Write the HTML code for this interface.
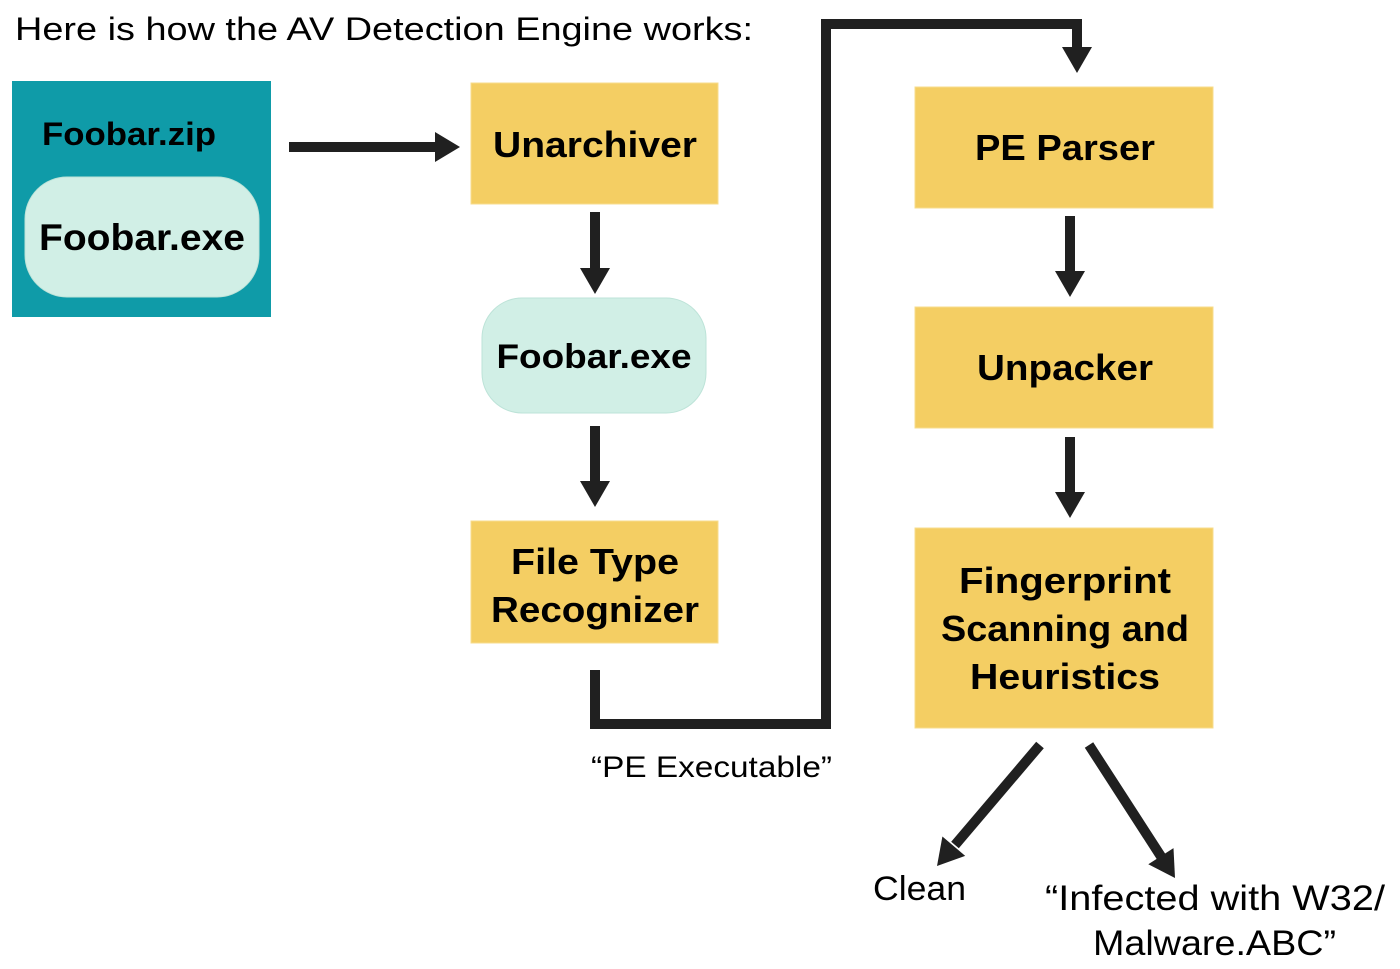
<!DOCTYPE html>
<html><head><meta charset="utf-8"><style>
html,body{margin:0;padding:0;background:#fff;}
svg{display:block;}
text{font-family:"Liberation Sans","DejaVu Sans",sans-serif;fill:#000;}
.b{font-weight:bold;}
</style></head><body>
<svg width="1400" height="969" viewBox="0 0 1400 969" xmlns="http://www.w3.org/2000/svg">
<text x="15" y="40" font-size="32" textLength="738" lengthAdjust="spacingAndGlyphs">Here is how the AV Detection Engine works:</text>

<rect x="12" y="81" width="259" height="236" fill="#0f9ba8"/>
<text class="b" x="42" y="145" font-size="32" textLength="174" lengthAdjust="spacingAndGlyphs">Foobar.zip</text>
<rect x="25" y="177" width="234" height="120" rx="42" fill="#d1efe6" stroke="#bde3d8"/>
<text class="b" x="142" y="250" font-size="37" text-anchor="middle" textLength="206" lengthAdjust="spacingAndGlyphs">Foobar.exe</text>

<g stroke="#202020" stroke-width="10" fill="none">
<line x1="289" y1="147" x2="436" y2="147"/>
<line x1="595" y1="212" x2="595" y2="269"/>
<line x1="595" y1="426" x2="595" y2="482"/>
<polyline points="595,670 595,724 826,724 826,24 1077,24 1077,48"/>
<line x1="1070" y1="216" x2="1070" y2="272"/>
<line x1="1070" y1="437" x2="1070" y2="493"/>
<line x1="1040" y1="745" x2="955" y2="845"/>
<line x1="1089" y1="745" x2="1162" y2="858"/>
</g>
<g fill="#202020">
<polygon points="435,132 460,147 435,162"/>
<polygon points="580,268 610,268 595,294"/>
<polygon points="580,481 610,481 595,507"/>
<polygon points="1062,47 1092,47 1077,73"/>
<polygon points="1055,271 1085,271 1070,297"/>
<polygon points="1055,492 1085,492 1070,518"/>
<polygon points="965.2,855.9 942.4,836.5 937,866"/>
<polygon points="1148.3,864.3 1173.5,848.1 1175,878"/>
</g>

<rect x="471" y="83" width="247" height="121" fill="#f4ce63" stroke="#f7dc8e"/>
<text class="b" x="595" y="157" font-size="36" text-anchor="middle" textLength="204" lengthAdjust="spacingAndGlyphs">Unarchiver</text>

<rect x="482" y="298" width="224" height="115" rx="40" fill="#d1efe6" stroke="#bde3d8"/>
<text class="b" x="594" y="368" font-size="34" text-anchor="middle" textLength="195" lengthAdjust="spacingAndGlyphs">Foobar.exe</text>

<rect x="471" y="521" width="247" height="122" fill="#f4ce63" stroke="#f7dc8e"/>
<text class="b" x="595" y="574" font-size="36" text-anchor="middle" textLength="168" lengthAdjust="spacingAndGlyphs">File Type</text>
<text class="b" x="595" y="622" font-size="36" text-anchor="middle" textLength="208" lengthAdjust="spacingAndGlyphs">Recognizer</text>

<text x="591" y="777" font-size="30" textLength="241" lengthAdjust="spacingAndGlyphs">“PE Executable”</text>

<rect x="915" y="87" width="298" height="121" fill="#f4ce63" stroke="#f7dc8e"/>
<text class="b" x="1065" y="160" font-size="36" text-anchor="middle" textLength="180" lengthAdjust="spacingAndGlyphs">PE Parser</text>

<rect x="915" y="307" width="298" height="121" fill="#f4ce63" stroke="#f7dc8e"/>
<text class="b" x="1065" y="380" font-size="36" text-anchor="middle" textLength="176" lengthAdjust="spacingAndGlyphs">Unpacker</text>

<rect x="915" y="528" width="298" height="200" fill="#f4ce63" stroke="#f7dc8e"/>
<text class="b" x="1065" y="593" font-size="36" text-anchor="middle" textLength="212" lengthAdjust="spacingAndGlyphs">Fingerprint</text>
<text class="b" x="1065" y="641" font-size="36" text-anchor="middle" textLength="248" lengthAdjust="spacingAndGlyphs">Scanning and</text>
<text class="b" x="1065" y="689" font-size="36" text-anchor="middle" textLength="190" lengthAdjust="spacingAndGlyphs">Heuristics</text>

<text x="873" y="900" font-size="34" textLength="93" lengthAdjust="spacingAndGlyphs">Clean</text>
<text x="1045" y="910" font-size="35" textLength="340" lengthAdjust="spacingAndGlyphs">“Infected with W32/</text>
<text x="1093" y="955" font-size="35" textLength="243" lengthAdjust="spacingAndGlyphs">Malware.ABC”</text>
</svg>
</body></html>
